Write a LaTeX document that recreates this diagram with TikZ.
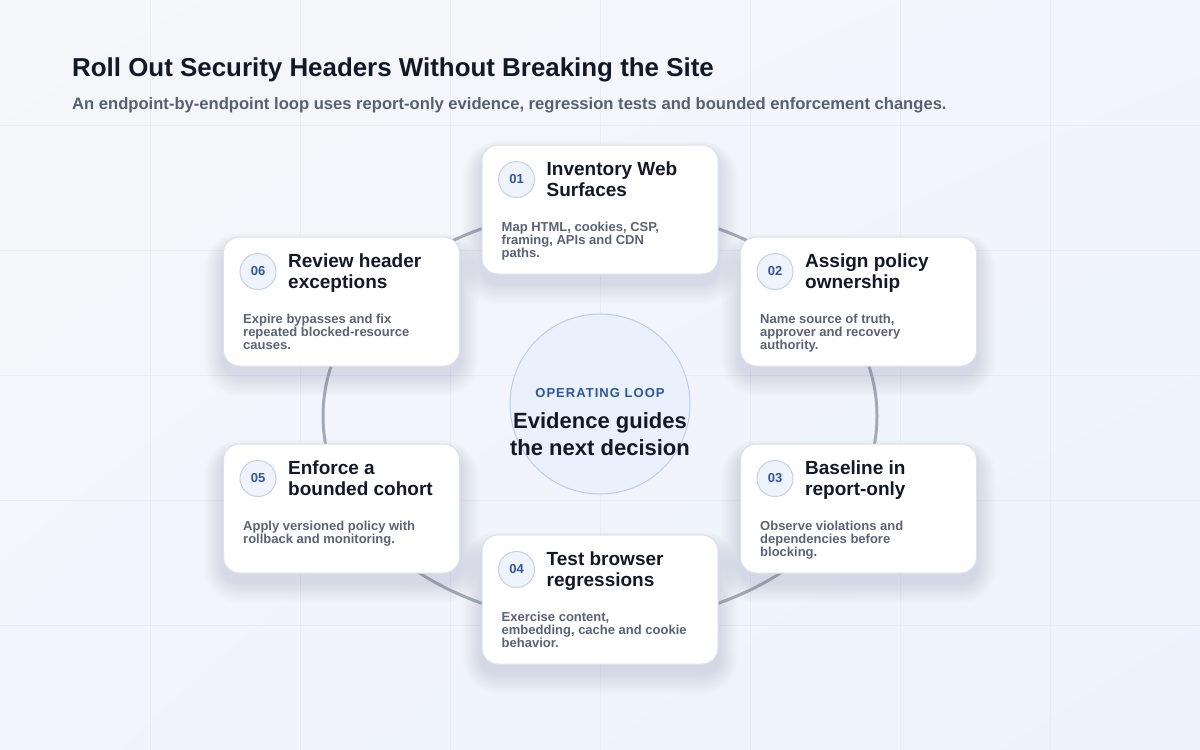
\documentclass[tikz,border=0pt]{standalone}
\usepackage{fontspec}
\setmainfont{Liberation Sans}
\usetikzlibrary{calc,shadings}
\definecolor{bgA}{HTML}{F5F7FA}
\definecolor{bgB}{HTML}{EDF2FC}
\definecolor{bgC}{HTML}{F2F5FB}
\definecolor{gridc}{HTML}{E8ECF3}
\definecolor{ink}{HTML}{111827}
\definecolor{subink}{HTML}{566072}
\definecolor{descink}{HTML}{5A6375}
\definecolor{ringc}{HTML}{A3A9B6}
\definecolor{cardborder}{HTML}{DDE2EA}
\definecolor{badgefill}{HTML}{EEF3FC}
\definecolor{badgeborder}{HTML}{C3D1EA}
\definecolor{badgeink}{HTML}{2F54A0}
\definecolor{hubfill}{HTML}{EAF1FC}
\definecolor{hubborder}{HTML}{BCCDE9}
\definecolor{shadowc}{HTML}{6A7898}
\tikzset{
  gridline/.style={draw=gridc, line width=0.8pt},
  ring/.style={draw=ringc, line width=3pt},
  card/.style={draw=cardborder, line width=1pt, fill=white, rounded corners=16pt,
    minimum width=236pt, minimum height=129pt, inner sep=0pt},
  shadowlayer/.style={fill=shadowc, fill opacity=0.012},
  badge/.style={circle, draw=badgeborder, line width=1pt, fill=badgefill, minimum size=36pt,
    inner sep=0pt, text=badgeink, font=\fontsize{13}{13}\selectfont\bfseries},
  cardtitle/.style={anchor=base west, inner sep=0pt, align=left, text=ink,
    font=\fontsize{19}{21}\selectfont\bfseries},
  carddesc/.style={anchor=base west, inner sep=0pt, align=left, text=descink,
    font=\fontsize{13}{13.3}\selectfont\bfseries},
  hub/.style={circle, draw=hubborder, line width=1pt, fill=hubfill, minimum size=180pt, inner sep=0pt},
}
% #1 number, #2 x, #3 y, #4 title (2 lines), #5 description, #6 baseline offset of last description line
\newcommand\mycard[6]{%
  \foreach \i in {1,...,14}{%
    \fill[shadowlayer, rounded corners={16pt+\i*1.4pt}]
      ({#2-118-\i*1.4},{#3-64.5-\i*0.9+9}) rectangle ({#2+118+\i*1.4},{#3+64.5+\i*1.5+9});
  }
  \node[card] (c#1) at (#2,#3) {};
  \node[badge] (b#1) at ($(c#1.north west)+(35,35)$) {#1};
  \node[cardtitle] (t#1) at ($(c#1.north west)+(65,51.5)$) {#4};
  \node[carddesc] (d#1) at ($(c#1.north west)+(20,#6)$) {#5};
}
\begin{document}
\begin{tikzpicture}[x=1pt,y=-1pt]
\useasboundingbox (0,0) rectangle (1200,750);
\shade[upper left=bgA, upper right=bgC, lower left=bgC, lower right=bgB] (0,0) rectangle (1200,750);
\foreach \gx in {150,300,...,1050} \draw[gridline] (\gx,0) -- (\gx,750);
\foreach \gy in {125,250,...,625} \draw[gridline] (0,\gy) -- (1200,\gy);

\node[anchor=base west, inner sep=0pt, text=ink, font=\fontsize{25.9}{26}\selectfont\bfseries] (title) at (72,76)
  {Roll Out Security Headers Without Breaking the Site};
\node[anchor=base west, inner sep=0pt, text=subink, font=\fontsize{16.6}{17}\selectfont\bfseries] (subtitle) at (72,109)
  {An endpoint-by-endpoint loop uses report-only evidence, regression tests and bounded enforcement changes.};

\draw[ring] (600,416) ellipse [x radius=277, y radius=207];

\node[hub] (hub) at (600,404) {};
\node[anchor=base, inner sep=0pt, text=badgeink, font=\fontsize{13}{13}\selectfont\bfseries\addfontfeature{LetterSpace=8}] (hublabel) at (600,397) {OPERATING LOOP};
\node[anchor=base, inner sep=0pt, align=center, text=ink, font=\fontsize{22}{27}\selectfont\bfseries] (hubtext) at (600,455) {Evidence guides\\the next decision};

\mycard{01}{600}{209.5}{Inventory Web\\Surfaces}{Map HTML, cookies, CSP,\\framing, APIs and CDN\\paths.}{113.3}
\mycard{02}{858.5}{301.5}{Assign policy\\ownership}{Name source of truth,\\approver and recovery\\authority.}{113.3}
\mycard{03}{858.5}{508.5}{Baseline in\\report-only}{Observe violations and\\dependencies before\\blocking.}{113.3}
\mycard{04}{600}{599.5}{Test browser\\regressions}{Exercise content,\\embedding, cache and cookie\\behavior.}{113.3}
\mycard{05}{341.5}{508.5}{Enforce a\\bounded cohort}{Apply versioned policy with\\rollback and monitoring.}{100}
\mycard{06}{341.5}{301.5}{Review header\\exceptions}{Expire bypasses and fix\\repeated blocked-resource\\causes.}{113.3}
\end{tikzpicture}
\end{document}
